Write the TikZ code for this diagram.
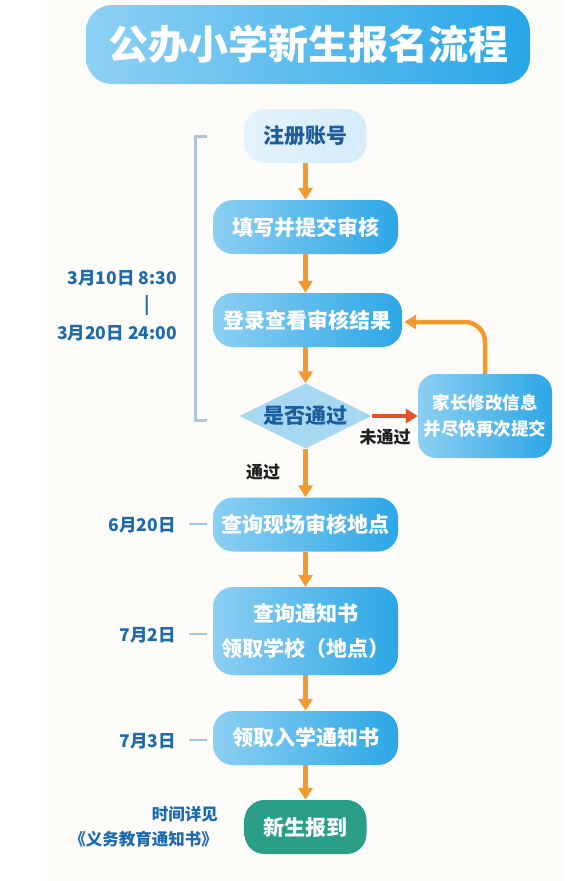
\documentclass[tikz,border=0pt]{standalone}
\usepackage{fontspec}
\setmainfont{Noto Sans CJK SC}
\usetikzlibrary{shapes.geometric,arrows.meta}
\definecolor{panelC}{HTML}{FDFCF9}
\definecolor{titleL}{HTML}{8ED1F4}
\definecolor{titleR}{HTML}{27A6E8}
\definecolor{boxL}{HTML}{8CCFF2}
\definecolor{boxR}{HTML}{2CA7E6}
\definecolor{lightL}{HTML}{E4F3FB}
\definecolor{lightR}{HTML}{D5ECF9}
\definecolor{darkBlue}{HTML}{1D5D9D}
\definecolor{dateBlue}{HTML}{1E6AAE}
\definecolor{arrowO}{HTML}{F39A2E}
\definecolor{arrowR}{HTML}{E1542B}
\definecolor{diaC}{HTML}{A7D8F1}
\definecolor{greenC}{HTML}{2B9E87}
\definecolor{brC}{HTML}{A8C6E2}
\begin{document}
\begin{tikzpicture}[x=1pt,y=-1pt,
  bluebox/.style={rectangle, rounded corners=20pt, left color=boxL, right color=boxR,
    text=white, font=\bfseries\fontsize{21}{35}\selectfont, minimum width=185pt,
    minimum height=54pt, inner sep=0pt, align=center},
  flowarrow/.style={draw=arrowO, line width=4.5pt, -{Triangle[width=14pt,length=12pt]}},
  datelab/.style={text=dateBlue, font=\bfseries\fontsize{17.5}{20}\selectfont, inner sep=0pt},
  tick/.style={draw=brC, line width=2.5pt},
  lab/.style={font=\bfseries\fontsize{17}{18}\selectfont, text=black!88, inner sep=0pt},
]
\useasboundingbox (0,0) rectangle (574,881);
\fill[panelC] (47,0) rectangle (565,881);

% title
\node[rectangle, rounded corners=26pt, left color=titleL, right color=titleR,
  minimum width=444pt, minimum height=79pt, inner sep=0pt, text=white,
  font=\bfseries\fontsize{40}{42}\selectfont] (title) at (308,44.5) {公办小学新生报名流程};

% flow boxes
\node[bluebox, left color=lightL, right color=lightR, text=darkBlue,
  minimum width=122pt] (b1) at (305.5,136) {注册账号};
\node[bluebox] (b2) at (305.5,227) {填写并提交审核};
\node[bluebox, minimum width=189pt] (b3) at (307.5,320) {登录查看审核结果};
\node[diamond, aspect=2.03, minimum width=132pt, minimum height=65pt, inner sep=0pt,
  fill=diaC, text=darkBlue, font=\bfseries\fontsize{21}{24}\selectfont] (d) at (305.5,416) {是否通过};
\node[bluebox, rounded corners=18pt, minimum width=134pt, minimum height=84pt,
  font=\bfseries\fontsize{17.5}{26}\selectfont] (b4) at (485,416) {家长修改信息\\并尽快再次提交};
\node[bluebox] (b5) at (305.5,524.5) {查询现场审核地点};
\node[bluebox, minimum height=88pt] (b6) at (305.5,631) {查询通知书\\领取学校（地点）};
\node[bluebox] (b7) at (305.5,738) {领取入学通知书};
\node[bluebox, left color=greenC, right color=greenC, minimum width=122pt] (b8) at (305.5,827) {新生报到};

% arrows
\draw[flowarrow] (b1.south) -- (b2.north);
\draw[flowarrow] (b2.south) -- (b2.south |- b3.north);
\draw[flowarrow] (b2.south |- b3.south) -- (d.north);
\draw[flowarrow] (d.south) -- (b5.north);
\draw[flowarrow] (b5.south) -- (b6.north);
\draw[flowarrow] (b6.south) -- (b7.north);
\draw[flowarrow] (b7.south) -- (b8.north);
\draw[flowarrow, draw=arrowR] (d.east) -- (b4.west);
\draw[flowarrow, rounded corners=20pt, shorten >=2pt] (b4.north) |- ([yshift=-2pt]b3.east);

\node[lab] (fail) at (385,437) {未通过};
\node[lab] (pass) at (263,472) {通过};

% bracket
\coordinate (brT) at (207,136);
\coordinate (brB) at (207,420);
\draw[tick, line width=3pt] (brT) -- (195,136) -- (195,420) -- (brB);

% dates
\node[datelab, anchor=east] (d1) at (177,278) {3月10日 8:30};
\node[datelab] (dbar) at (147,305) {|};
\node[datelab, anchor=east] (d2) at (177,333) {3月20日 24:00};
\node[datelab, anchor=east] (d3) at (176,525) {6月20日};
\node[datelab, anchor=east] (d4) at (176,635) {7月2日};
\node[datelab, anchor=east] (d5) at (176,741) {7月3日};
\coordinate (t3) at (189,524);
\coordinate (t4) at (189,634);
\coordinate (t5) at (189,740);
\draw[tick] (t3) -- (207,524);
\draw[tick] (t4) -- (207,634);
\draw[tick] (t5) -- (207,740);
\node[datelab, anchor=east, align=right, font=\bfseries\fontsize{16.5}{25}\selectfont] (note) at (218,827) {时间详见\\《义务教育通知书》};
\end{tikzpicture}
\end{document}
